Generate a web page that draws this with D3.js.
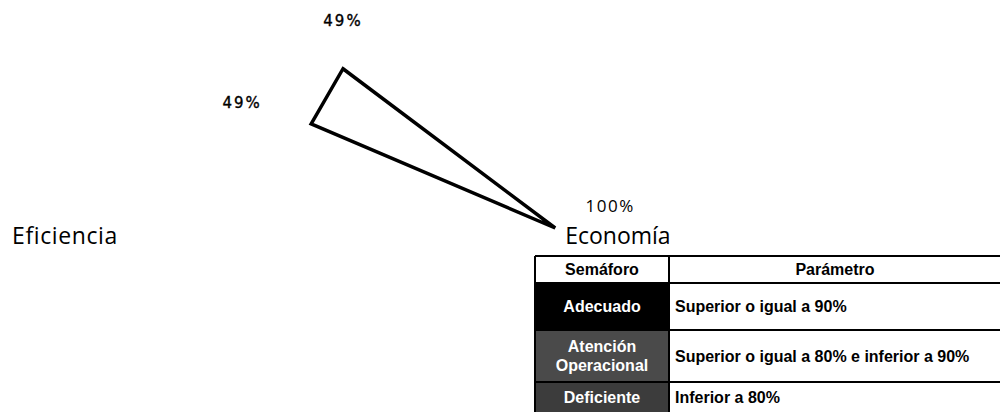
<!DOCTYPE html>
<html>
<head>
<meta charset="utf-8">
<script src="https://cdn.jsdelivr.net/npm/d3@7"></script>
<style>
  body { margin: 0; background: #fff; }
  svg { display: block; }
</style>
</head>
<body>
<svg width="1000" height="412"></svg>
<script>
// radar data (clockwise from the top axis)
const categories = ["Eficacia", "Economía", "Eficiencia"];
const values = [0.49, 1.00, 0.49];
const valueLabels = ["49%", "100%", "49%"];

// semaforo table
const tableHeader = ["Semáforo", "Parámetro"];
const statusNames = [["Adecuado"], ["Atención", "Operacional"], ["Deficiente"]];
const statusRules = [
    "Superior o igual a 90%",
    "Superior o igual a 80% e inferior a 90%",
    "Inferior a 80%"
];

const svg = d3.select("svg");
const width = 1000;
const height = 412;

// ---- radar ----
const cx = 343;
const cy = 105.5;
const r = d3.scaleLinear().domain([0.4, 1]).range([0, 245]);
const angle = d3.scaleLinear().domain([0, categories.length]).range([-Math.PI / 2, 1.5 * Math.PI]);

function point (v, i) {
    let a = angle(i);
    return [cx + r(v) * Math.cos(a), cy + r(v) * Math.sin(a)];
}

const g = svg.append("g");

g.append("path")
    .attr("d", d3.line().curve(d3.curveLinearClosed)(values.map((v, i) => point(v, i))))
    .attr("fill", "none")
    .attr("stroke", "#000")
    .attr("stroke-width", 3.5)
    .attr("stroke-linejoin", "miter");

// data labels, offsets from their vertex
const labelOffsets = [[0, -43], [55, -16], [-69, -16]];
g.selectAll("text.val")
        .data(values)
    .enter().append("text")
        .attr("class", "val")
        .attr("x", (d, i) => point(d, i)[0] + labelOffsets[i][0])
        .attr("y", (d, i) => point(d, i)[1] + labelOffsets[i][1])
        .attr("text-anchor", "middle")
        .attr("font-family", (d, i) => i === 1 ? "Open Sans" : "DejaVu Sans")
        .attr("font-size", (d, i) => i === 1 ? 17 : 15)
        .attr("letter-spacing", (d, i) => i === 1 ? 1.5 : 2)
        .attr("fill", "#000")
        .attr("stroke", (d, i) => i === 1 ? "none" : "#000")
        .attr("stroke-width", 0.35)
        .text((d, i) => valueLabels[i]);

// category labels at the outer end of each axis (only those inside the view)
const catData = categories.map((c, i) => {
    let p = point(1, i);
    let cos = Math.cos(angle(i));
    return {
        name: c,
        x: p[0] + (cos > 0.1 ? 10 : cos < -0.1 ? -13 : 0),
        y: p[1] + 16,
        anchor: cos > 0.1 ? "start" : cos < -0.1 ? "end" : "middle"
    };
}).filter(d => d.y > 0 && d.y < height);

g.selectAll("text.cat")
        .data(catData)
    .enter().append("text")
        .attr("class", "cat")
        .attr("x", d => d.x)
        .attr("y", d => d.y)
        .attr("text-anchor", d => d.anchor)
        .attr("font-family", "Open Sans")
        .attr("font-size", 23)
        .attr("letter-spacing", d => d.anchor === "end" ? 0.6 : 0)
        .attr("fill", "#000")
        .text(d => d.name);

// ---- table ----
const colX = [535, 669, 1010];
const rowY = [256, 283, 330, 382, 430];
const cellFills = ["#000", "#4a4a4a", "#3c3c3c"];
const t = svg.append("g")
    .attr("font-family", "Liberation Sans")
    .attr("font-weight", "bold")
    .attr("font-size", 16);

t.selectAll("rect.status")
        .data(statusNames)
    .enter().append("rect")
        .attr("class", "status")
        .attr("x", colX[0])
        .attr("y", (d, i) => rowY[i + 1])
        .attr("width", colX[1] - colX[0])
        .attr("height", (d, i) => rowY[i + 2] - rowY[i + 1])
        .attr("fill", (d, i) => cellFills[i]);

// grid lines
t.selectAll("line.h")
        .data(rowY.slice(0, 4))
    .enter().append("line")
        .attr("class", "h")
        .attr("x1", colX[0])
        .attr("x2", colX[2])
        .attr("y1", d => d)
        .attr("y2", d => d)
        .attr("stroke", "#000")
        .attr("stroke-width", 2);
t.selectAll("line.v")
        .data(colX.slice(0, 2))
    .enter().append("line")
        .attr("class", "v")
        .attr("x1", d => d)
        .attr("x2", d => d)
        .attr("y1", rowY[0])
        .attr("y2", rowY[4])
        .attr("stroke", "#000")
        .attr("stroke-width", 2);

// header
t.selectAll("text.head")
        .data(tableHeader)
    .enter().append("text")
        .attr("class", "head")
        .attr("x", (d, i) => i === 0 ? (colX[0] + colX[1]) / 2 : 835)
        .attr("y", (rowY[0] + rowY[1]) / 2)
        .attr("dy", "0.36em")
        .attr("text-anchor", "middle")
        .attr("fill", "#000")
        .text(d => d);

// status names
statusNames.forEach((lines, i) => {
    let mid = (rowY[i + 1] + rowY[i + 2]) / 2;
    if (i === 2) mid = rowY[3] + 15;
    lines.forEach((s, j) => {
        t.append("text")
            .attr("x", (colX[0] + colX[1]) / 2)
            .attr("y", mid + (j - (lines.length - 1) / 2) * 19)
            .attr("dy", "0.36em")
            .attr("text-anchor", "middle")
            .attr("fill", "#fff")
            .text(s);
    });
});

// rules
t.selectAll("text.rule")
        .data(statusRules)
    .enter().append("text")
        .attr("class", "rule")
        .attr("x", colX[1] + 6)
        .attr("y", (d, i) => i === 2 ? rowY[3] + 15 : (rowY[i + 1] + rowY[i + 2]) / 2)
        .attr("dy", "0.36em")
        .attr("fill", "#000")
        .text(d => d);
</script>
</body>
</html>
